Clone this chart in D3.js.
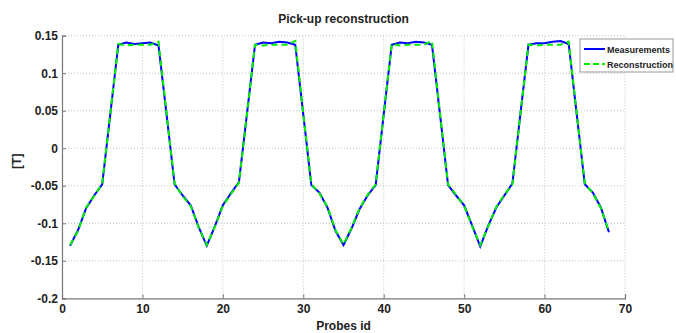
<!DOCTYPE html>
<html>
<head>
<meta charset="utf-8">
<script src="https://cdn.jsdelivr.net/npm/d3@7"></script>
<style>
  body { margin: 0; background: #fff; }
  svg { display: block; font-family: "Liberation Sans", Arial, sans-serif; }
</style>
</head>
<body>
<div id="chart"></div>
<script>
// probe ids 1..68
let probes = d3.range(1, 69);

let measurements = [
  -0.130, -0.109, -0.080, -0.063, -0.048, 0.045, 0.138, 0.141, 0.139, 0.140,
  0.141, 0.137, 0.045, -0.048, -0.063, -0.076, -0.105, -0.130, -0.104, -0.076,
  -0.060, -0.045, 0.046, 0.138, 0.141, 0.140, 0.142, 0.141, 0.138, 0.045,
  -0.049, -0.059, -0.079, -0.110, -0.129, -0.107, -0.081, -0.063, -0.049, 0.045,
  0.138, 0.141, 0.140, 0.142, 0.141, 0.138, 0.045, -0.049, -0.063, -0.076,
  -0.103, -0.131, -0.103, -0.079, -0.063, -0.047, 0.046, 0.138, 0.140, 0.140,
  0.142, 0.143, 0.139, 0.045, -0.048, -0.059, -0.079, -0.112
];

let reconstruction = [
  -0.129, -0.110, -0.079, -0.064, -0.047, 0.046, 0.139, 0.137, 0.138, 0.138,
  0.138, 0.142, 0.046, -0.047, -0.064, -0.077, -0.106, -0.129, -0.105, -0.077,
  -0.061, -0.046, 0.046, 0.138, 0.137, 0.138, 0.138, 0.138, 0.143, 0.046,
  -0.048, -0.060, -0.078, -0.109, -0.128, -0.106, -0.080, -0.062, -0.048, 0.046,
  0.139, 0.137, 0.138, 0.138, 0.138, 0.143, 0.046, -0.048, -0.062, -0.077,
  -0.104, -0.129, -0.104, -0.078, -0.062, -0.048, 0.046, 0.138, 0.137, 0.138,
  0.138, 0.138, 0.142, 0.046, -0.047, -0.060, -0.080, -0.111
];

let xTicks = [0, 10, 20, 30, 40, 50, 60, 70];
let yTicks = [-0.2, -0.15, -0.1, -0.05, 0, 0.05, 0.1, 0.15];

let seriesNames = ["Measurements", "Reconstruction"];
let seriesColors = ["#0000ff", "#00ee00"];

let width = 676, height = 333;
let margin = {top: 35.7, right: 51, bottom: 34.7, left: 62};

let svg = d3.select("#chart").append("svg")
  .attr("width", width)
  .attr("height", height);

let x = d3.scaleLinear().domain([0, 70]).range([margin.left, width - margin.right]);
let y = d3.scaleLinear().domain([-0.2, 0.15]).range([height - margin.bottom, margin.top]);

// grid
let grid = svg.append("g").attr("class", "grid")
  .attr("stroke", "#c4c4c4")
  .attr("stroke-width", 1)
  .attr("stroke-dasharray", "1,2");

grid.selectAll("line.gx")
  .data(xTicks.filter(d => d > 0))
  .enter().append("line")
  .attr("x1", d => x(d)).attr("x2", d => x(d))
  .attr("y1", y(-0.2)).attr("y2", y(0.15));

grid.selectAll("line.gy")
  .data(yTicks.filter(d => d > -0.2))
  .enter().append("line")
  .attr("x1", x(0)).attr("x2", x(70))
  .attr("y1", d => y(d)).attr("y2", d => y(d));

let fmt = d => String(+d.toFixed(2));

let xAxis = svg.append("g")
  .attr("transform", "translate(0," + y(-0.2) + ")")
  .call(d3.axisBottom(x).tickValues(xTicks).tickSize(-4).tickPadding(6).tickFormat(fmt));

let yAxis = svg.append("g")
  .attr("transform", "translate(" + x(0) + ",0)")
  .call(d3.axisLeft(y).tickValues(yTicks).tickSize(-4).tickPadding(4).tickFormat(fmt));

[xAxis, yAxis].forEach(ax => {
  ax.select(".domain").attr("stroke", "#777").attr("stroke-width", 1.2);
  ax.selectAll(".tick line").attr("stroke", "#777");
  ax.selectAll("text")
    .attr("fill", "#222")
    .style("font-size", "12px")
    .style("font-weight", "bold")
    .style("font-family", "'Liberation Sans', Arial, sans-serif");
});

// lines
let line = d3.line()
  .x((d, i) => x(probes[i]))
  .y(d => y(d));

svg.append("path")
  .datum(measurements)
  .attr("fill", "none")
  .attr("stroke", seriesColors[0])
  .attr("stroke-width", 2)
  .attr("d", line);

svg.append("path")
  .datum(reconstruction)
  .attr("fill", "none")
  .attr("stroke", seriesColors[1])
  .attr("stroke-width", 2)
  .attr("stroke-dasharray", "6,4")
  .attr("d", line);

// title and labels
svg.append("text")
  .attr("x", (x(0) + x(70)) / 2)
  .attr("y", 23)
  .attr("text-anchor", "middle")
  .attr("fill", "#222")
  .style("font-size", "12px")
  .style("font-weight", "bold")
  .text("Pick-up reconstruction");

svg.append("text")
  .attr("x", (x(0) + x(70)) / 2)
  .attr("y", 330)
  .attr("text-anchor", "middle")
  .attr("fill", "#222")
  .style("font-size", "12px")
  .style("font-weight", "bold")
  .text("Probes id");

svg.append("text")
  .attr("transform", "translate(21," + (y(0) + 13) + ") rotate(-90)")
  .attr("text-anchor", "middle")
  .attr("fill", "#222")
  .style("font-size", "12px")
  .style("font-weight", "bold")
  .text("[T]");

// legend
let legend = svg.append("g").attr("transform", "translate(580,39)");

legend.append("rect")
  .attr("width", 93).attr("height", 33)
  .attr("fill", "#fff")
  .attr("stroke", "#999");

let items = legend.selectAll("g.item")
  .data(seriesNames)
  .enter().append("g")
  .attr("transform", (d, i) => "translate(0," + (10 + i * 15) + ")");

items.append("line")
  .attr("x1", 4).attr("x2", 25)
  .attr("stroke", (d, i) => seriesColors[i])
  .attr("stroke-width", 2)
  .attr("stroke-dasharray", (d, i) => i == 1 ? "6,3" : null);

items.append("text")
  .attr("x", 27).attr("y", 3.5)
  .attr("fill", "#222")
  .style("font-size", "9px")
  .style("font-weight", "bold")
  .text(d => d);
</script>
</body>
</html>
